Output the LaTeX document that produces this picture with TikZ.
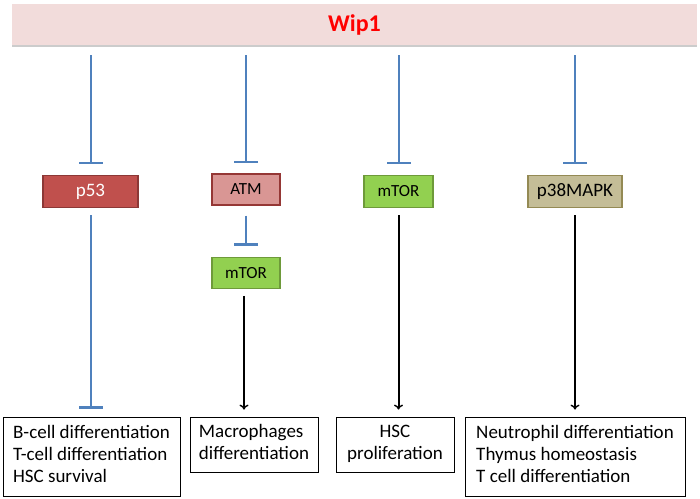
\documentclass[tikz,border=0pt]{standalone}
\usepackage{fontspec}
\setmainfont{Carlito}
\usetikzlibrary{positioning,arrows.meta,shadows}

\definecolor{bannerpink}{HTML}{F2DCDB}
\definecolor{inhblue}{HTML}{4F81BD}
\definecolor{pfill}{HTML}{C0504D}
\definecolor{pdraw}{HTML}{8C3836}
\definecolor{atmfill}{HTML}{D99694}
\definecolor{atmdraw}{HTML}{953735}
\definecolor{mtorfill}{HTML}{92D050}
\definecolor{mtordraw}{HTML}{6E9A3A}
\definecolor{mapkfill}{HTML}{C4BD97}
\definecolor{mapkdraw}{HTML}{948A54}

\begin{document}
\begin{tikzpicture}[x=1pt, y=-1pt,
    prot/.style={draw, line width=1.2pt, minimum height=32pt, inner sep=0pt},
    outbox/.style={draw, line width=0.8pt, inner sep=0pt, font=\fontsize{19}{22}\selectfont},
    inhib/.style={inhblue, line width=2pt, -{Bar[width=24pt, line width=2.2pt]}},
    act/.style={line width=2pt, -{To[length=5pt, width=9pt, line width=1.4pt]}}]
    \useasboundingbox (0,0) rectangle (700,498);

    \node[fill=bannerpink, minimum width=685pt, minimum height=41pt,
          drop shadow={shadow xshift=0pt, shadow yshift=-2pt, opacity=0.4}]
          (wip) at (354.5,24.5) {\fontsize{24}{26}\selectfont\bfseries\textcolor{red}{Wip1}};

    \node[prot, fill=pfill, draw=pdraw, minimum width=95pt, text=white,
          font=\fontsize{19}{22}\selectfont] (p53) at (90.5,191.5) {p53};
    \node[prot, fill=atmfill, draw=atmdraw, minimum width=68pt, minimum height=31pt,
          font=\fontsize{17}{20}\selectfont] (atm) at (246,189.5) {ATM};
    \node[prot, fill=mtorfill, draw=mtordraw, minimum width=68pt, minimum height=31pt,
          font=\fontsize{17}{20}\selectfont, below=51pt of atm] (mtor1) {mTOR};
    \node[prot, fill=mtorfill, draw=mtordraw, minimum width=69pt,
          font=\fontsize{17}{20}\selectfont] (mtor2) at (398.5,191.5) {mTOR};
    \node[prot, fill=mapkfill, draw=mapkdraw, minimum width=94pt,
          font=\fontsize{19}{22}\selectfont] (p38) at (575,191.5) {p38MAPK};

    \node[outbox, minimum width=177pt, minimum height=79pt] (out1) at (91.5,456.5)
        {\begin{tabular}{@{}l@{}}B-cell differentiation\\T-cell differentiation\\HSC survival\end{tabular}};
    \node[outbox, minimum width=128pt, minimum height=55pt] (out2) at (254,444.5)
        {\begin{tabular}{@{}l@{}}Macrophages\\differentiation\end{tabular}};
    \node[outbox, minimum width=118pt, minimum height=55pt] (out3) at (395,444.5)
        {\begin{tabular}{@{}c@{}}HSC\\proliferation\end{tabular}};
    \node[outbox, minimum width=220pt, minimum height=79pt] (out4) at (575,456.5)
        {\begin{tabular}{@{}l@{}}Neutrophil differentiation\\Thymus homeostasis\\T cell differentiation\end{tabular}};

    % Wip1 inhibits
    \draw[inhib, shorten <=10pt, shorten >=11pt] (p53 |- wip.south) -- (p53.north);
    \draw[inhib, shorten <=10pt, shorten >=10pt] (atm |- wip.south) -- (atm.north);
    \draw[inhib, shorten <=10pt, shorten >=11pt] (mtor2 |- wip.south) -- (mtor2.north);
    \draw[inhib, shorten <=10pt, shorten >=11pt] (p38 |- wip.south) -- (p38.north);

    \draw[inhib, shorten <=7pt, shorten >=8pt] (p53.south) -- (p53 |- out1.north);
    \draw[inhib, shorten <=10pt, shorten >=11pt] (atm.south) -- (mtor1.north);

    \draw[act, shorten <=7pt, shorten >=7pt] ([xshift=-2pt]mtor1.south) -- ([xshift=-2pt]mtor1.south |- out2.north);
    \draw[act, shorten <=7pt, shorten >=7pt] (mtor2.south) -- (mtor2 |- out3.north);
    \draw[act, shorten <=7pt, shorten >=7pt] (p38.south) -- (p38 |- out4.north);
\end{tikzpicture}
\end{document}
